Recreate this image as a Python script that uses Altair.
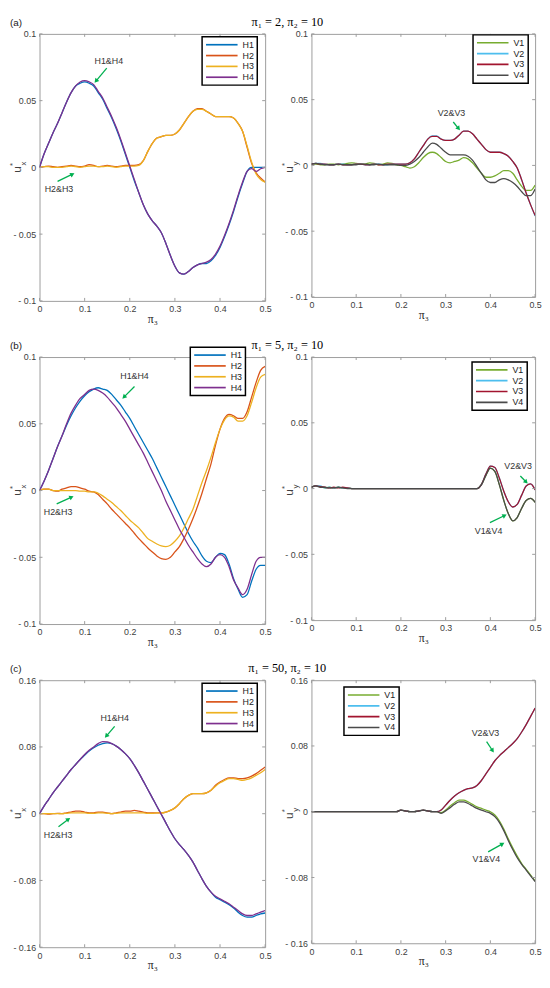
import math
import altair as alt
import pandas as pd

# ---------------- data ----------------
X = [0.0, 0.01, 0.02, 0.03, 0.04, 0.05, 0.06, 0.07, 0.08, 0.09,
     0.1, 0.11, 0.12, 0.13, 0.14, 0.15, 0.16, 0.17, 0.18, 0.19,
     0.2, 0.21, 0.22, 0.23, 0.24, 0.25, 0.26, 0.27, 0.28, 0.29,
     0.3, 0.31, 0.32, 0.33, 0.34, 0.35, 0.36, 0.37, 0.38, 0.39,
     0.4, 0.41, 0.42, 0.43, 0.44, 0.45, 0.46, 0.47, 0.48, 0.49, 0.5]

# (a) pi1 = 2
H1_A = [0.000, 0.010, 0.018, 0.026, 0.033, 0.041, 0.049, 0.056, 0.061, 0.063,
        0.064, 0.063, 0.061, 0.056, 0.051, 0.044, 0.037, 0.029, 0.020, 0.010,
        0.000, -0.010, -0.019, -0.028, -0.035, -0.040, -0.044, -0.049, -0.057, -0.066,
        -0.074, -0.079, -0.080, -0.078, -0.075, -0.073, -0.072, -0.072, -0.070, -0.066,
        -0.060, -0.052, -0.043, -0.033, -0.022, -0.012, -0.003, 0.000, 0.000, 0.000,
        0.000]
H2_A = [0.000, 0.0005, 0.001, 0.0005, 0.000, 0.0005, 0.001, 0.0015, 0.001, 0.0005,
        0.001, 0.002, 0.0015, 0.0005, 0.001, 0.0015, 0.001, 0.0005, 0.001, 0.0015,
        0.0015, 0.0015, 0.002, 0.005, 0.012, 0.018, 0.022, 0.023, 0.024, 0.024,
        0.025, 0.028, 0.033, 0.038, 0.042, 0.044, 0.044, 0.042, 0.040, 0.038,
        0.038, 0.038, 0.038, 0.037, 0.033, 0.027, 0.015, 0.003, -0.004, -0.008,
        -0.011]
H3_A = [0.000, 0.0005, 0.0005, 0.000, 0.000, 0.000, 0.0005, 0.001, 0.0005, 0.000,
        0.0005, 0.001, 0.001, 0.0005, 0.0005, 0.001, 0.0005, 0.000, 0.0005, 0.001,
        0.001, 0.001, 0.0015, 0.005, 0.012, 0.018, 0.022, 0.023, 0.024, 0.024,
        0.025, 0.028, 0.033, 0.038, 0.042, 0.0435, 0.0435, 0.042, 0.040, 0.038,
        0.038, 0.038, 0.038, 0.037, 0.033, 0.027, 0.016, 0.004, -0.005, -0.009,
        -0.011]
H4_A = [0.000, 0.010, 0.018, 0.026, 0.033, 0.041, 0.049, 0.056, 0.061, 0.064,
        0.065, 0.064, 0.062, 0.057, 0.052, 0.045, 0.038, 0.030, 0.021, 0.011,
        0.001, -0.009, -0.019, -0.028, -0.035, -0.040, -0.044, -0.049, -0.057, -0.066,
        -0.074, -0.079, -0.080, -0.078, -0.075, -0.073, -0.072, -0.071, -0.069, -0.065,
        -0.059, -0.051, -0.042, -0.032, -0.021, -0.011, -0.003, -0.001, -0.003, -0.001,
        0.000]
V1_A = [0.001, 0.001, 0.0005, 0.0005, 0.001, 0.001, 0.0005, 0.001, 0.0015, 0.002,
        0.0015, 0.001, 0.001, 0.002, 0.0015, 0.0005, 0.001, 0.002, 0.0015, 0.0005,
        0.000, -0.001, -0.002, -0.001, 0.002, 0.006, 0.009, 0.010, 0.009, 0.006,
        0.003, 0.002, 0.003, 0.004, 0.006, 0.005, 0.002, -0.002, -0.006, -0.009,
        -0.009, -0.008, -0.006, -0.004, -0.004, -0.006, -0.011, -0.016, -0.019, -0.019,
        -0.015]
V2_A = [0.001, 0.0015, 0.0015, 0.001, 0.0005, 0.0005, 0.001, 0.001, 0.0005, 0.0005,
        0.001, 0.001, 0.0005, 0.0005, 0.001, 0.001, 0.0005, 0.0005, 0.001, 0.001,
        0.001, 0.001, 0.002, 0.005, 0.010, 0.015, 0.020, 0.0225, 0.0225, 0.020,
        0.019, 0.019, 0.020, 0.023, 0.026, 0.026, 0.024, 0.020, 0.016, 0.012,
        0.010, 0.010, 0.010, 0.009, 0.007, 0.003, -0.002, -0.011, -0.021, -0.030,
        -0.0385]
V3_A = [0.001, 0.0015, 0.001, 0.001, 0.0005, 0.0005, 0.001, 0.0005, 0.0005, 0.0005,
        0.001, 0.001, 0.0005, 0.0005, 0.001, 0.0005, 0.0005, 0.001, 0.001, 0.001,
        0.001, 0.001, 0.002, 0.005, 0.010, 0.015, 0.020, 0.022, 0.022, 0.020,
        0.019, 0.019, 0.020, 0.023, 0.026, 0.026, 0.024, 0.020, 0.016, 0.012,
        0.010, 0.010, 0.010, 0.009, 0.007, 0.003, -0.002, -0.011, -0.021, -0.030,
        -0.038]
V4_A = [0.001, 0.0015, 0.001, 0.0005, 0.0005, 0.0005, 0.001, 0.0005, 0.0005, 0.0005,
        0.0005, 0.001, 0.001, 0.0005, 0.0005, 0.001, 0.0005, 0.0005, 0.0005, 0.0005,
        0.000, 0.000, 0.001, 0.003, 0.006, 0.010, 0.014, 0.017, 0.016, 0.013,
        0.010, 0.008, 0.008, 0.008, 0.008, 0.007, 0.004, -0.001, -0.006, -0.011,
        -0.013, -0.013, -0.011, -0.010, -0.011, -0.013, -0.016, -0.020, -0.023, -0.023,
        -0.018]

# (b) pi1 = 5
H1_B = [0.000, 0.007, 0.015, 0.024, 0.033, 0.041, 0.049, 0.056, 0.062, 0.067,
        0.071, 0.074, 0.076, 0.077, 0.076, 0.075, 0.072, 0.068, 0.064, 0.059,
        0.054, 0.048, 0.042, 0.036, 0.030, 0.024, 0.017, 0.010, 0.003, -0.004,
        -0.011, -0.018, -0.025, -0.032, -0.038, -0.043, -0.049, -0.053, -0.054, -0.050,
        -0.047, -0.048, -0.055, -0.066, -0.074, -0.080, -0.078, -0.068, -0.059, -0.056,
        -0.056]
H2_B = [0.000, 0.001, 0.001, 0.000, -0.0005, 0.001, 0.002, 0.003, 0.003, 0.002,
        0.001, -0.0005, -0.001, -0.003, -0.0065, -0.010, -0.014, -0.0175, -0.021, -0.0245,
        -0.028, -0.032, -0.036, -0.0395, -0.043, -0.046, -0.049, -0.051, -0.0515, -0.050,
        -0.046, -0.042, -0.036, -0.029, -0.021, -0.012, -0.002, 0.009, 0.020, 0.034,
        0.046, 0.054, 0.057, 0.056, 0.054, 0.054, 0.059, 0.070, 0.081, 0.090,
        0.093]
H3_B = [0.000, 0.001, 0.001, 0.000, 0.000, 0.000, 0.000, 0.000, 0.000, -0.0005,
        -0.0005, -0.001, -0.001, -0.002, -0.004, -0.0065, -0.009, -0.012, -0.015, -0.0185,
        -0.022, -0.025, -0.028, -0.032, -0.036, -0.038, -0.040, -0.0415, -0.042, -0.041,
        -0.038, -0.034, -0.028, -0.021, -0.014, -0.004, 0.006, 0.015, 0.025, 0.036,
        0.046, 0.053, 0.056, 0.055, 0.052, 0.052, 0.056, 0.066, 0.077, 0.085,
        0.087]
H4_B = [0.000, 0.007, 0.015, 0.024, 0.033, 0.041, 0.050, 0.058, 0.064, 0.069,
        0.072, 0.075, 0.076, 0.075, 0.073, 0.070, 0.066, 0.062, 0.057, 0.052,
        0.046, 0.040, 0.034, 0.028, 0.021, 0.014, 0.007, 0.000, -0.008, -0.015,
        -0.022, -0.029, -0.035, -0.041, -0.046, -0.051, -0.055, -0.057, -0.055, -0.050,
        -0.048, -0.050, -0.057, -0.067, -0.073, -0.078, -0.074, -0.063, -0.053, -0.050,
        -0.050]
V1_B = [0.001, 0.002, 0.0015, 0.0005, 0.001, 0.0005, 0.001, 0.0005, 0.0005, 0.000,
        0.000, 0.000, 0.000, 0.000, 0.000, 0.000, 0.000, 0.000, 0.000, 0.000,
        0.000, 0.000, 0.000, 0.000, 0.000, 0.000, 0.000, 0.000, 0.000, 0.000,
        0.000, 0.000, 0.000, 0.000, 0.000, 0.000, 0.000, 0.000, 0.003, 0.010,
        0.0155, 0.013, 0.003, -0.009, -0.019, -0.0245, -0.022, -0.015, -0.009, -0.0075,
        -0.0105]
V2_B = [0.001, 0.002, 0.002, 0.0005, 0.001, 0.0005, 0.001, 0.0005, 0.0005, 0.000,
        0.000, 0.000, 0.000, 0.000, 0.000, 0.000, 0.000, 0.000, 0.000, 0.000,
        0.000, 0.000, 0.000, 0.000, 0.000, 0.000, 0.000, 0.000, 0.000, 0.000,
        0.000, 0.000, 0.000, 0.000, 0.000, 0.000, 0.000, 0.000, 0.003, 0.011,
        0.017, 0.016, 0.008, -0.002, -0.010, -0.014, -0.012, -0.005, 0.002, 0.0035,
        -0.001]
V3_B = [0.001, 0.002, 0.0015, 0.001, 0.0005, 0.001, 0.0005, 0.001, 0.0005, 0.000,
        0.000, 0.000, 0.000, 0.000, 0.000, 0.000, 0.000, 0.000, 0.000, 0.000,
        0.000, 0.000, 0.000, 0.000, 0.000, 0.000, 0.000, 0.000, 0.000, 0.000,
        0.000, 0.000, 0.000, 0.000, 0.000, 0.000, 0.000, 0.000, 0.003, 0.011,
        0.017, 0.016, 0.008, -0.002, -0.010, -0.014, -0.012, -0.005, 0.002, 0.0035,
        -0.001]
V4_B = [0.001, 0.002, 0.001, 0.001, 0.0005, 0.0005, 0.001, 0.0005, 0.000, 0.000,
        0.000, 0.000, 0.000, 0.000, 0.000, 0.000, 0.000, 0.000, 0.000, 0.000,
        0.000, 0.000, 0.000, 0.000, 0.000, 0.000, 0.000, 0.000, 0.000, 0.000,
        0.000, 0.000, 0.000, 0.000, 0.000, 0.000, 0.000, 0.000, 0.003, 0.010,
        0.0155, 0.013, 0.003, -0.009, -0.019, -0.0245, -0.022, -0.015, -0.009, -0.0075,
        -0.0105]

# (c) pi1 = 50
H1_C = [0.000, 0.009, 0.017, 0.025, 0.032, 0.039, 0.046, 0.053, 0.059, 0.065,
        0.070, 0.075, 0.079, 0.082, 0.084, 0.085, 0.084, 0.081, 0.077, 0.072,
        0.066, 0.058, 0.049, 0.039, 0.029, 0.019, 0.009, -0.001, -0.011, -0.021,
        -0.030, -0.037, -0.043, -0.050, -0.058, -0.068, -0.078, -0.087, -0.094, -0.100,
        -0.103, -0.106, -0.109, -0.113, -0.118, -0.122, -0.124, -0.124, -0.122, -0.120,
        -0.119]
H2_C = [0.000, 0.000, -0.0005, 0.000, 0.0005, 0.000, 0.001, 0.002, 0.003, 0.003,
        0.002, 0.001, 0.001, 0.002, 0.002, 0.001, 0.000, 0.001, 0.002, 0.003,
        0.003, 0.004, 0.003, 0.002, 0.001, 0.001, 0.001, 0.001, 0.002, 0.004,
        0.007, 0.012, 0.018, 0.022, 0.024, 0.024, 0.024, 0.025, 0.028, 0.034,
        0.038, 0.041, 0.043, 0.043, 0.042, 0.042, 0.043, 0.045, 0.048, 0.052,
        0.056]
H3_C = [0.000, 0.000, 0.000, 0.000, 0.000, 0.000, 0.0005, 0.001, 0.001, 0.001,
        0.001, 0.0005, 0.0005, 0.001, 0.001, 0.0005, 0.000, 0.0005, 0.001, 0.001,
        0.001, 0.001, 0.001, 0.001, 0.0005, 0.0005, 0.001, 0.001, 0.002, 0.004,
        0.007, 0.012, 0.018, 0.022, 0.024, 0.024, 0.024, 0.025, 0.028, 0.033,
        0.037, 0.040, 0.042, 0.042, 0.041, 0.040, 0.041, 0.043, 0.046, 0.049,
        0.053]
H4_C = [0.000, 0.009, 0.017, 0.025, 0.032, 0.039, 0.046, 0.053, 0.059, 0.065,
        0.071, 0.076, 0.080, 0.084, 0.0865, 0.086, 0.084, 0.081, 0.077, 0.072,
        0.066, 0.058, 0.049, 0.039, 0.029, 0.019, 0.009, -0.001, -0.011, -0.021,
        -0.030, -0.037, -0.043, -0.050, -0.058, -0.068, -0.078, -0.087, -0.094, -0.099,
        -0.102, -0.105, -0.108, -0.112, -0.116, -0.120, -0.122, -0.122, -0.120, -0.118,
        -0.116]
V1_C = [0.000, 0.000, 0.000, 0.000, 0.000, 0.000, 0.000, 0.000, 0.000, 0.000,
        0.000, 0.000, 0.000, 0.000, 0.000, 0.000, 0.000, 0.000, 0.000, 0.000,
        0.002, 0.001, 0.000, 0.000, 0.001, 0.002, 0.001, 0.000, 0.000, -0.001,
        0.002, 0.007, 0.011, 0.014, 0.014, 0.012, 0.009, 0.006, 0.004, 0.002,
        0.000, -0.004, -0.011, -0.021, -0.033, -0.044, -0.054, -0.063, -0.070, -0.077,
        -0.084]
V2_C = [0.000, 0.000, 0.000, 0.000, 0.000, 0.000, 0.000, 0.000, 0.000, 0.000,
        0.000, 0.000, 0.000, 0.000, 0.000, 0.000, 0.000, 0.000, 0.000, 0.000,
        0.002, 0.001, 0.000, 0.000, 0.001, 0.002, 0.001, 0.000, 0.000, 0.002,
        0.008, 0.014, 0.019, 0.023, 0.026, 0.028, 0.029, 0.032, 0.038, 0.046,
        0.054, 0.062, 0.068, 0.073, 0.078, 0.083, 0.089, 0.097, 0.106, 0.116,
        0.126]
V3_C = [0.000, 0.000, 0.000, 0.000, 0.000, 0.000, 0.000, 0.000, 0.000, 0.000,
        0.000, 0.000, 0.000, 0.000, 0.000, 0.000, 0.000, 0.000, 0.000, 0.000,
        0.002, 0.001, 0.000, 0.000, 0.001, 0.002, 0.001, 0.000, 0.000, 0.002,
        0.008, 0.014, 0.019, 0.023, 0.026, 0.028, 0.029, 0.032, 0.038, 0.046,
        0.054, 0.062, 0.068, 0.073, 0.078, 0.083, 0.089, 0.097, 0.106, 0.116,
        0.126]
V4_C = [0.000, 0.000, 0.000, 0.000, 0.000, 0.000, 0.000, 0.000, 0.000, 0.000,
        0.000, 0.000, 0.000, 0.000, 0.000, 0.000, 0.000, 0.000, 0.000, 0.000,
        0.002, 0.001, 0.000, 0.000, 0.001, 0.002, 0.001, 0.000, 0.000, -0.002,
        0.001, 0.005, 0.009, 0.012, 0.012, 0.010, 0.007, 0.004, 0.002, 0.000,
        -0.002, -0.006, -0.013, -0.023, -0.035, -0.046, -0.056, -0.064, -0.071, -0.078,
        -0.085]

H_NAMES = ["H1", "H2", "H3", "H4"]
V_NAMES = ["V1", "V2", "V3", "V4"]
H_COLORS = ["#0072BD", "#D95319", "#EDB120", "#7E2F8E"]
V_COLORS = ["#77AC30", "#4DBEEE", "#A2142F", "#4A4A4A"]

X_TICKS = [0, 0.1, 0.2, 0.3, 0.4, 0.5]
Y_TICKS_AB = [-0.1, -0.05, 0, 0.05, 0.1]
Y_TICKS_C = [-0.16, -0.08, 0, 0.08, 0.16]
Y_DOM_AB = [-0.1, 0.1]
Y_DOM_C = [-0.16, 0.16]

ROW_TITLES = ["π₁ = 2, π₂ = 10", "π₁ = 5, π₂ = 10", "π₁ = 50, π₂ = 10"]
ROW_TAGS = ["(a)", "(b)", "(c)"]

# annotations: (label, x, y) and arrows (x1, y1, x2, y2) in data units
ANN_TEXT = {
    "aL": [("H1&H4", 0.1535, 0.0797), ("H2&H3", 0.043, -0.016)],
    "aR": [("V2&V3", 0.313, 0.040)],
    "bL": [("H1&H4", 0.2105, 0.0856), ("H2&H3", 0.041, -0.0164)],
    "bR": [("V2&V3", 0.462, 0.017), ("V1&V4", 0.396, -0.0321)],
    "cL": [("H1&H4", 0.1665, 0.1149), ("H2&H3", 0.041, -0.0252)],
    "cR": [("V2&V3", 0.389, 0.0953), ("V1&V4", 0.391, -0.058)],
}
ANN_ARROW = {
    "aL": [(0.149, 0.0744, 0.125, 0.0646), (0.040, -0.0105, 0.073, -0.0051)],
    "aR": [(0.317, 0.033, 0.329, 0.028)],
    "bL": [(0.2105, 0.0779, 0.187, 0.070), (0.038, -0.010, 0.071, -0.0049)],
    "bR": [(0.467, 0.0096, 0.480, 0.005), (0.399, -0.0259, 0.432, -0.0205)],
    "cL": [(0.1665, 0.1047, 0.148, 0.093), (0.042, -0.0156, 0.064, -0.0066)],
    "cR": [(0.3916, 0.0852, 0.405, 0.0742), (0.395, -0.0489, 0.427, -0.0391)],
}

# ---------------- styling / layout ----------------
FRAME = "#9c9c9c"
GREEN = "#00B050"
TXT = "#404040"
SANS = "Liberation Sans"
SERIF = "Liberation Serif"
LW, RW, LH, RH = 229, 227, 271, 267
GAP_X = 47
GAP_Y = 57
LEG = {"aL": (165, 3), "aR": (164, 1), "bL": (153, -10), "bR": (163, 5),
       "cL": (165, 3), "cR": (33, 7)}
Y_LABEL_EXPR = ("datum.value < 0 ? '- ' + format(-datum.value, '~g') "
                ": format(datum.value, '~g')")
X_LABEL_EXPR = "format(datum.value, '~g')"

for arr in [H1_A, H2_A, H3_A, H4_A, V1_A, V2_A, V3_A, V4_A,
            H1_B, H2_B, H3_B, H4_B, V1_B, V2_B, V3_B, V4_B,
            H1_C, H2_C, H3_C, H4_C, V1_C, V2_C, V3_C, V4_C]:
    assert len(arr) == len(X)


def series_frame(names, arrays):
    rows = []
    for n, arr in zip(names, arrays):
        for x, v in zip(X, arr):
            rows.append({"x": x, "v": v, "s": n})
    return pd.DataFrame(rows)


def one(text):
    return pd.DataFrame({"t": [text]})


def panel(key, names, colors, arrays, ydom, yticks, W, H, sub,
          tag=None, title=None):
    xs = alt.Scale(domain=[0, 0.5], nice=False, zero=False)
    ys = alt.Scale(domain=ydom, nice=False, zero=False)
    xax = alt.Axis(values=X_TICKS, title="π₃", labelFlush=False,
                   labelExpr=X_LABEL_EXPR)
    yax = alt.Axis(values=yticks, title=None, labelExpr=Y_LABEL_EXPR,
                   labelFlush=False)
    df = series_frame(names, arrays)
    lines = alt.Chart(df).mark_line(
        strokeWidth=1.3, interpolate="monotone", clip=True
    ).encode(
        x=alt.X("x:Q", scale=xs, axis=xax),
        y=alt.Y("v:Q", scale=ys, axis=yax),
        color=alt.Color("s:N", scale=alt.Scale(domain=names, range=colors),
                        legend=alt.Legend(title=None, orient="none",
                                          legendX=LEG[key][0], legendY=LEG[key][1])),
    )
    tx = pd.DataFrame({"t": X_TICKS})
    ty = pd.DataFrame({"t": yticks})
    xt_b = alt.Chart(tx).mark_rule(color=FRAME, strokeWidth=1).encode(
        x=alt.X("t:Q", scale=xs, axis=xax), y=alt.value(H), y2=alt.value(H - 3))
    xt_t = alt.Chart(tx).mark_rule(color=FRAME, strokeWidth=1).encode(
        x=alt.X("t:Q", scale=xs, axis=xax), y=alt.value(0), y2=alt.value(3))
    yt_l = alt.Chart(ty).mark_rule(color=FRAME, strokeWidth=1).encode(
        y=alt.Y("t:Q", scale=ys, axis=yax), x=alt.value(0), x2=alt.value(3))
    yt_r = alt.Chart(ty).mark_rule(color=FRAME, strokeWidth=1).encode(
        y=alt.Y("t:Q", scale=ys, axis=yax), x=alt.value(W), x2=alt.value(W - 3))

    sx = W / 0.5
    sy = H / (ydom[1] - ydom[0])
    arows = []
    for (x1, y1, x2, y2) in ANN_ARROW[key]:
        dx = (x2 - x1) * sx
        dy = -(y2 - y1) * sy
        ang = math.degrees(math.atan2(dx, -dy)) % 360
        arows.append({"x1": x1, "y1": y1, "x2": x2, "y2": y2, "ang": ang})
    adf = pd.DataFrame(arows)
    tdf = pd.DataFrame(ANN_TEXT[key], columns=["label", "tx", "ty"])
    shafts = alt.Chart(adf).mark_rule(color=GREEN, strokeWidth=1.3).encode(
        x=alt.X("x1:Q", scale=xs, axis=xax), y=alt.Y("y1:Q", scale=ys, axis=yax),
        x2="x2:Q", y2="y2:Q")
    heads = alt.Chart(adf).mark_point(shape="triangle-up", filled=True, size=26,
                                      color=GREEN, opacity=1).encode(
        x=alt.X("x2:Q", scale=xs, axis=xax), y=alt.Y("y2:Q", scale=ys, axis=yax),
        angle=alt.Angle("ang:Q", scale=None))
    labels = alt.Chart(tdf).mark_text(font=SANS, fontSize=9, color="#333333").encode(
        x=alt.X("tx:Q", scale=xs, axis=xax), y=alt.Y("ty:Q", scale=ys, axis=yax),
        text="label:N")

    mid = LH / 2
    u_t = alt.Chart(one("u")).mark_text(font=SANS, fontSize=12, angle=270,
                                        color=TXT).encode(
        text="t:N", x=alt.value(-23), y=alt.value(mid + 2))
    star = alt.Chart(one("*")).mark_text(font=SANS, fontSize=8, angle=270,
                                         color=TXT).encode(
        text="t:N", x=alt.value(-27), y=alt.value(mid - 3))
    subt = alt.Chart(one(sub)).mark_text(font=SANS, fontSize=8, angle=270,
                                         color=TXT).encode(
        text="t:N", x=alt.value(-16), y=alt.value(mid - 4))

    layers = [lines, xt_b, xt_t, yt_l, yt_r, shafts, heads, labels, u_t, star, subt]
    if tag is not None:
        layers.append(alt.Chart(one(tag)).mark_text(
            font=SANS, fontSize=10, align="left", color="#222222").encode(
            text="t:N", x=alt.value(-30), y=alt.value(-11)))
    if title is not None:
        layers.append(alt.Chart(one(title)).mark_text(
            font=SERIF, fontSize=12.5, color="#000000").encode(
            text="t:N", x=alt.value((LW + GAP_X + RW) / 2), y=alt.value(-12)))
    return alt.layer(*layers).properties(width=W, height=H)


ROWS = [
    ("a", [H1_A, H2_A, H3_A, H4_A], [V1_A, V2_A, V3_A, V4_A], Y_DOM_AB, Y_TICKS_AB),
    ("b", [H1_B, H2_B, H3_B, H4_B], [V1_B, V2_B, V3_B, V4_B], Y_DOM_AB, Y_TICKS_AB),
    ("c", [H1_C, H2_C, H3_C, H4_C], [V1_C, V2_C, V3_C, V4_C], Y_DOM_C, Y_TICKS_C),
]

panels = []
for i, (r, harr, varr, ydom, yt) in enumerate(ROWS):
    panels.append(panel(r + "L", H_NAMES, H_COLORS, harr, ydom, yt, LW, LH, "x",
                        tag=ROW_TAGS[i], title=ROW_TITLES[i]))
    panels.append(panel(r + "R", V_NAMES, V_COLORS, varr, ydom, yt, RW, RH, "y"))

chart = alt.concat(
    *panels, columns=2, spacing={"row": GAP_Y, "column": GAP_X}, bounds="flush"
).resolve_scale(
    x="independent", y="independent", color="independent"
).properties(padding={"left": 0, "top": 0, "right": 0, "bottom": 0}).configure_view(
    stroke=FRAME, strokeWidth=1
).configure_axis(
    domain=False, ticks=False, grid=False,
    labelFont=SANS, labelFontSize=9, labelColor=TXT,
    titleFont=SERIF, titleFontSize=12, titleColor="#222222",
    titleFontWeight="normal", titlePadding=0
).configure_axisX(
    labelPadding=4
).configure_axisY(
    labelPadding=4
).configure_legend(
    strokeColor="black", strokeWidth=1.5, fillColor="white", padding=3,
    rowPadding=1, labelFont=SANS, labelFontSize=9, labelColor="#222222",
    symbolType="M-4,0L4,0", symbolSize=64, symbolStrokeWidth=1.7,
    symbolOffset=12, labelOffset=16, cornerRadius=0
)

chart.save("out.html", embed_options={"renderer": "svg", "actions": False})
